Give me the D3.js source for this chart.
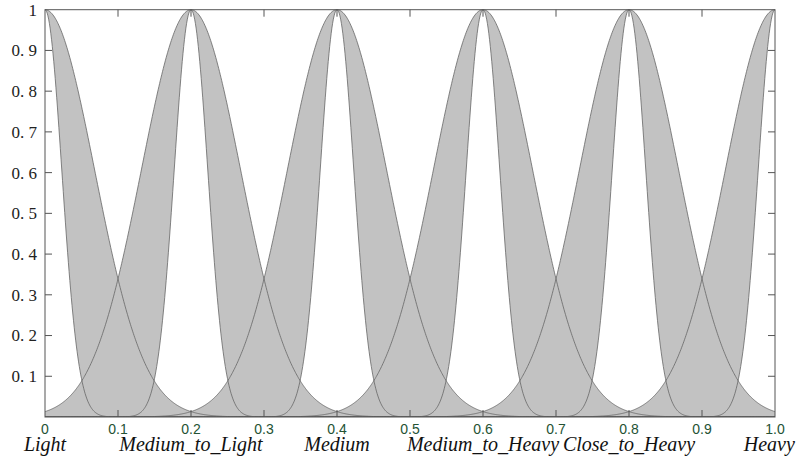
<!DOCTYPE html>
<html>
<head>
<meta charset="utf-8">
<script src="https://cdn.jsdelivr.net/npm/d3@7"></script>
<style>
  html, body { margin: 0; padding: 0; background: #fff; }
  svg { display: block; }
</style>
</head>
<body>
<svg id="chart" width="796" height="462"></svg>
<script>
// ---- data ----
const centers = [0, 0.2, 0.4, 0.6, 0.8, 1.0];
const setLabels = ["Light", "Medium_to_Light", "Medium", "Medium_to_Heavy", "Close_to_Heavy", "Heavy"];
const sigmaUpper = [0.068, 0.068, 0.068, 0.068, 0.068, 0.068];
const sigmaLower = [0.023, 0.023, 0.023, 0.023, 0.023, 0.023];
const xTicks = [0, 0.1, 0.2, 0.3, 0.4, 0.5, 0.6, 0.7, 0.8, 0.9, 1.0];
const xTickLabels = ["0", "0.1", "0.2", "0.3", "0.4", "0.5", "0.6", "0.7", "0.8", "0.9", "1.0"];
const yTicks = [0.1, 0.2, 0.3, 0.4, 0.5, 0.6, 0.7, 0.8, 0.9, 1];
const yTickLabels = ["0. 1", "0. 2", "0. 3", "0. 4", "0. 5", "0. 6", "0. 7", "0. 8", "0. 9", "1"];

// ---- layout ----
const W = 796, H = 462;
const mLeft = 45, mRight = 775, mTop = 9.7, mBottom = 417;
const svg = d3.select("#chart");
const x = d3.scaleLinear().domain([0, 1]).range([mLeft, mRight]);
const y = d3.scaleLinear().domain([0, 1]).range([mBottom, mTop]);

const gauss = (v, c, s) => Math.exp(-((v - c) * (v - c)) / (2 * s * s));
const samples = d3.range(0, 1.00001, 0.001);

svg.append("defs").append("clipPath").attr("id", "clip")
  .append("rect").attr("x", mLeft).attr("y", mTop - 1).attr("width", mRight - mLeft).attr("height", mBottom - mTop + 1);

const plot = svg.append("g").attr("clip-path", "url(#clip)");

const sets = centers.map((c, i) => ({ c, su: sigmaUpper[i], sl: sigmaLower[i] }));

// FOU fills
const area = d3.area()
  .x(d => x(d.v))
  .y0(d => y(d.lo))
  .y1(d => y(d.up));
sets.forEach(s => {
  const pts = samples.map(v => ({ v, lo: gauss(v, s.c, s.sl), up: gauss(v, s.c, s.su) }));
  plot.append("path").attr("d", area(pts)).attr("fill", "#c2c2c2").attr("stroke", "none");
});

// MF curves
const line = d3.line().x(d => x(d[0])).y(d => y(d[1]));
sets.forEach(s => {
  [s.su, s.sl].forEach(sg => {
    plot.append("path")
      .attr("d", line(samples.map(v => [v, gauss(v, s.c, sg)])))
      .attr("fill", "none").attr("stroke", "#666").attr("stroke-width", 0.8);
  });
});

// box
svg.append("rect").attr("x", mLeft).attr("y", mTop).attr("width", mRight - mLeft).attr("height", mBottom - mTop)
  .attr("fill", "none").attr("stroke", "#555").attr("stroke-width", 1);

// ticks
const tickLen = 7;
const tg = svg.append("g").attr("stroke", "#555").attr("stroke-width", 1);
xTicks.forEach(t => {
  if (t <= 0 || t >= 1) return;
  tg.append("line").attr("x1", x(t)).attr("x2", x(t)).attr("y1", mBottom).attr("y2", mBottom - tickLen);
  tg.append("line").attr("x1", x(t)).attr("x2", x(t)).attr("y1", mTop).attr("y2", mTop + tickLen);
});
yTicks.forEach(t => {
  if (t >= 1) return;
  tg.append("line").attr("x1", mLeft).attr("x2", mLeft + tickLen).attr("y1", y(t)).attr("y2", y(t));
  tg.append("line").attr("x1", mRight).attr("x2", mRight - tickLen).attr("y1", y(t)).attr("y2", y(t));
});

// y tick labels
svg.append("g").selectAll("text").data(yTicks).join("text")
  .attr("x", 37).attr("y", d => y(d)).attr("dy", "0.35em")
  .attr("text-anchor", "end")
  .attr("font-family", "'Liberation Serif', 'DejaVu Serif', serif")
  .attr("font-size", 17).attr("fill", "#222")
  .text((d, i) => yTickLabels[i]);

// x tick labels
svg.append("g").selectAll("text").data(xTicks).join("text")
  .attr("x", d => x(d)).attr("y", 433.5)
  .attr("text-anchor", "middle")
  .attr("font-family", "'Liberation Sans', Arial, sans-serif")
  .attr("font-size", 14).attr("fill", "#245234")
  .text((d, i) => xTickLabels[i]);

// set labels
svg.append("g").selectAll("text").data(centers).join("text")
  .attr("x", d => x(d)).attr("y", 451)
  .attr("text-anchor", "middle")
  .attr("font-family", "'Liberation Serif', 'DejaVu Serif', serif")
  .attr("font-style", "italic")
  .attr("font-size", 20).attr("fill", "#111")
  .text((d, i) => setLabels[i])
  .each(function () {
    const b = this.getBBox();
    if (b.x + b.width > W - 1) d3.select(this).attr("x", +d3.select(this).attr("x") - (b.x + b.width - (W - 1)));
    if (b.x < 1) d3.select(this).attr("x", +d3.select(this).attr("x") + (1 - b.x));
  });
</script>
</body>
</html>
